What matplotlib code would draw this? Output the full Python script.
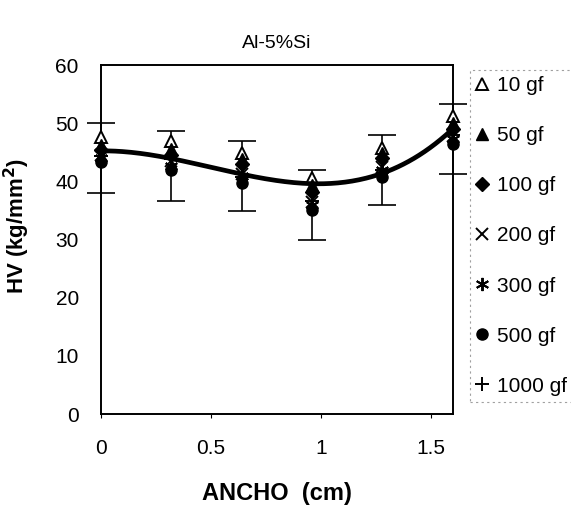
import matplotlib.pyplot as plt
import numpy as np

plt.rcParams['font.family'] = ['Liberation Sans', 'DejaVu Sans']

ancho = [0.0, 0.32, 0.64, 0.96, 1.28, 1.6]
loads = ["10 gf", "50 gf", "100 gf", "200 gf", "300 gf", "500 gf", "1000 gf"]
hv = {
    "10 gf": [47.6, 47.0, 44.8, 40.6, 45.8, 51.2],
    "50 gf": [46.3, 45.6, 43.8, 39.3, 44.8, 50.1],
    "100 gf": [45.4, 44.6, 43.0, 38.2, 44.0, 49.0],
    "200 gf": [44.5, 43.5, 41.3, 36.5, 42.5, 47.8],
    "300 gf": [44.0, 42.6, 40.9, 36.0, 42.0, 47.3],
    "500 gf": [43.3, 42.0, 39.8, 35.0, 40.8, 46.5],
    "1000 gf": [44.3, 43.8, 40.8, 36.6, 42.0, 48.0],
}
err_center = [44.0, 42.6, 40.9, 36.0, 42.0, 47.3]
err = 6.0

styles = {
    "10 gf": dict(marker="^", mfc="white", mec="black", ms=8.5, mew=1.4),
    "50 gf": dict(marker="^", mfc="black", mec="black", ms=8.5),
    "100 gf": dict(marker="D", mfc="black", mec="black", ms=7),
    "200 gf": dict(marker="x", mfc="black", mec="black", ms=8.5, mew=1.4),
    "300 gf": dict(marker=(6, 2, 0), mfc="black", mec="black", ms=9.5, mew=1.4),
    "500 gf": dict(marker="o", mfc="black", mec="black", ms=8),
    "1000 gf": dict(marker="+", mfc="black", mec="black", ms=10, mew=1.4),
}

fig = plt.figure(figsize=(5.71, 5.08), dpi=100)
ax = fig.add_axes([0.177, 0.185, 0.616, 0.687])

eb = ax.errorbar(ancho, err_center, yerr=err, fmt="none", ecolor="black",
                 elinewidth=1.2, capsize=10, capthick=1.2, zorder=2)
for part in eb.lines[1] + eb.lines[2]:
    part.set_clip_on(False)

for name in loads:
    ax.plot(ancho, hv[name], linestyle="none", color="black", label=name,
            zorder=3, clip_on=False, **styles[name])

# polynomial trend line through all the points
all_x = np.repeat([ancho], len(loads), axis=0).ravel()
all_y = np.array([hv[n] for n in loads]).ravel()
coef = np.polyfit(all_x, all_y, 3)
xs = np.linspace(0, 1.6, 200)
ax.plot(xs, np.polyval(coef, xs), color="black", linewidth=3.4, zorder=4)

ax.set_xlim(0, 1.6)
ax.set_ylim(0, 60)
ax.set_xticks([0, 0.5, 1, 1.5])
ax.set_xticklabels(["0", "0.5", "1", "1.5"])
ax.set_yticks(range(0, 61, 10))
ax.tick_params(axis="x", labelsize=15, length=3, pad=15)
ax.tick_params(axis="y", labelsize=15, length=0, pad=16)
for s in ax.spines.values():
    s.set_linewidth(1.4)

ax.set_xlabel("ANCHO  (cm)", fontsize=17, fontweight="bold")
ax.xaxis.set_label_coords(0.5, -0.195)
ax.set_ylabel("HV (kg/mm$^\\mathbf{2}$)", fontsize=16, fontweight="bold")
ax.yaxis.set_label_coords(-0.197, 0.54)
ax.set_title("Al-5%Si", fontsize=14, pad=12)

leg = fig.legend(loc="upper left", bbox_to_anchor=(0.823, 0.862), fontsize=15,
                 frameon=True, fancybox=False, labelspacing=1.49,
                 handletextpad=0.4, handlelength=0.6, borderpad=0.3,
                 borderaxespad=0)
leg.get_frame().set_edgecolor("#888888")
leg.get_frame().set_linewidth(0.8)
leg.get_frame().set_linestyle((0, (2, 3)))

fig.savefig("out.png", dpi=100)
